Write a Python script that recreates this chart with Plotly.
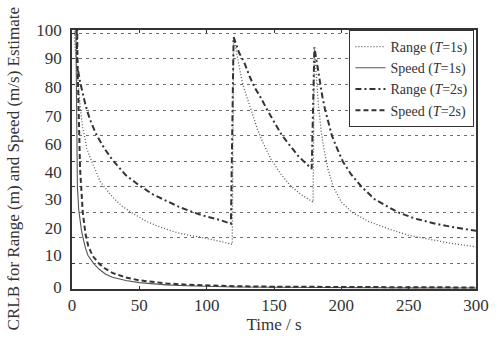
import plotly.graph_objects as go

# ---- data ----
t_range1 = [1, 2, 3, 4, 5, 6, 7, 8, 10, 11, 13, 15, 18, 21, 24, 30, 37, 44, 55, 65, 75, 85, 100, 110, 119,
            120, 122, 124, 126, 128, 131, 134, 138, 142, 148, 155, 162, 170, 179,
            180, 181, 183, 185, 187, 190, 194, 200, 208, 220, 235, 250, 265, 280, 300]
v_range1 = [130, 97, 90, 83, 77, 72, 67, 63, 58, 55, 52, 49.5, 45.5, 42, 40, 36, 32.5, 30, 26.5, 24.3, 22.5, 21.2, 19.8, 18.6, 17.5,
            98.5, 93, 87, 82, 78, 73, 68.5, 62, 57, 50.5, 45, 40.5, 37, 34,
            94, 86, 72, 62, 55, 47, 40, 34, 30, 26.5, 23.5, 21, 19.5, 18, 16.5]

t_speed1 = [1, 2, 3, 4, 5, 6, 7, 8, 10, 12, 14, 16, 20, 25, 30, 40, 50, 60, 70, 85, 100, 120, 150, 200, 250, 300]
v_speed1 = [300, 150, 95, 40, 31, 26, 23, 20.5, 16, 13, 11.3, 10, 7.8, 5.8, 4.6, 3.3, 2.5, 2.0, 1.6, 1.3, 1.0, 0.8, 0.7, 0.5, 0.45, 0.4]

t_range2 = [2, 4, 6, 8, 10, 12, 14, 18, 24, 30, 40, 50, 60, 70, 80, 90, 100, 110, 118,
            120, 122, 124, 128, 132, 136, 140, 145, 150, 156, 162, 168, 172, 178,
            180, 182, 184, 186, 188, 190, 193, 196, 201, 207, 215, 225, 242, 255, 270, 285, 300]
v_range2 = [140, 87, 81, 76, 72, 68.5, 65.5, 60.5, 55, 50.5, 44.5, 40.5, 37, 34.5, 32, 30, 28.3, 27, 25.5,
            98.5, 95, 92.5, 88.5, 83, 78.5, 75, 70, 65.5, 60, 56, 52, 50, 47,
            94.5, 88, 81, 75, 70, 65.5, 60, 56, 50, 45, 40, 35, 30, 27.5, 25.5, 24, 22.8]

t_speed2 = [2, 4, 6, 8, 10, 12, 14, 16, 20, 24, 30, 40, 50, 60, 70, 85, 100, 120, 150, 200, 250, 300]
v_speed2 = [300, 90, 47, 30, 21.5, 17, 14.5, 12.5, 10, 8.2, 6.3, 4.5, 3.4, 2.7, 2.2, 1.7, 1.4, 1.1, 0.9, 0.75, 0.65, 0.6]

x_ticks = [0, 50, 100, 150, 200, 250, 300]
y_grid = [0, 10, 20, 30, 40, 50, 60, 70, 80, 90, 100]
# label text and where it sits on the (slightly distorted) scan
y_label_text = ["100", "90", "80", "70", "60", "40", "30", "20", "10", "0"]
y_label_pos = [101.2, 90.3, 79.1, 67.8, 56.7, 45.8, 35.1, 24.0, 13.1, 0.9]

names = ["Range (<i>T</i>=1s)", "Speed (<i>T</i>=1s)", "Range (<i>T</i>=2s)", "Speed (<i>T</i>=2s)"]
x_title = "Time / s"
y_title = "CRLB for Range (m) and Speed (m/s) Estimate"

FONT = "Liberation Serif, Times New Roman, DejaVu Serif, serif"
INK = "#333333"

fig = go.Figure()
fig.add_trace(go.Scatter(x=t_range1, y=v_range1, mode="lines", name=names[0],
                         line=dict(color="#555555", width=1.3, dash="1px,2px")))
fig.add_trace(go.Scatter(x=t_speed1, y=v_speed1, mode="lines", name=names[1],
                         line=dict(color="#555555", width=1.1)))
fig.add_trace(go.Scatter(x=t_range2, y=v_range2, mode="lines", name=names[2],
                         line=dict(color="#333333", width=2, dash="6px,3px,2px,3px")))
fig.add_trace(go.Scatter(x=t_speed2, y=v_speed2, mode="lines", name=names[3],
                         line=dict(color="#333333", width=2, dash="5px,3px")))

fig.update_layout(
    width=501, height=343,
    margin=dict(l=72, r=14, t=30, b=48),
    paper_bgcolor="white", plot_bgcolor="white",
    font=dict(family=FONT, color=INK, size=16),
    showlegend=True,
    legend=dict(x=(357 - 72) / 415, y=1, xanchor="left", yanchor="top",
                bgcolor="white", bordercolor=INK, borderwidth=1,
                font=dict(family=FONT, size=14, color=INK),
                tracegroupgap=0, itemwidth=30),
    xaxis=dict(range=[0, 300], tickvals=x_ticks, ticks="inside", ticklen=3,
               tickcolor=INK, showline=True, linecolor=INK, linewidth=1.5,
               mirror="ticks", showgrid=False, zeroline=False,
               tickfont=dict(family=FONT, size=17, color=INK),
               title=dict(text=x_title, font=dict(family=FONT, size=17, color=INK), standoff=4)),
    yaxis=dict(range=[0, 101.3], tickmode="array", tickvals=y_label_pos, ticktext=y_label_text,
               ticks="", showline=True, linecolor=INK, linewidth=1.5, mirror=True,
               showgrid=False, zeroline=False, ticklabelstandoff=5,
               tickfont=dict(family=FONT, size=17, color=INK),
               minor=dict(tickmode="array", tickvals=y_grid, showgrid=True,
                          gridcolor="#6f6f6f", griddash="3px,4px", gridwidth=1,
                          ticks="inside", ticklen=3, tickcolor=INK)),
    annotations=[dict(text=y_title, textangle=-90, xref="paper", yref="paper",
                      x=(12 - 72) / 415, y=(295 - 172) / 265, xanchor="center", yanchor="middle",
                      showarrow=False, font=dict(family=FONT, size=17, color=INK))],
)

fig.write_html("out.html")
